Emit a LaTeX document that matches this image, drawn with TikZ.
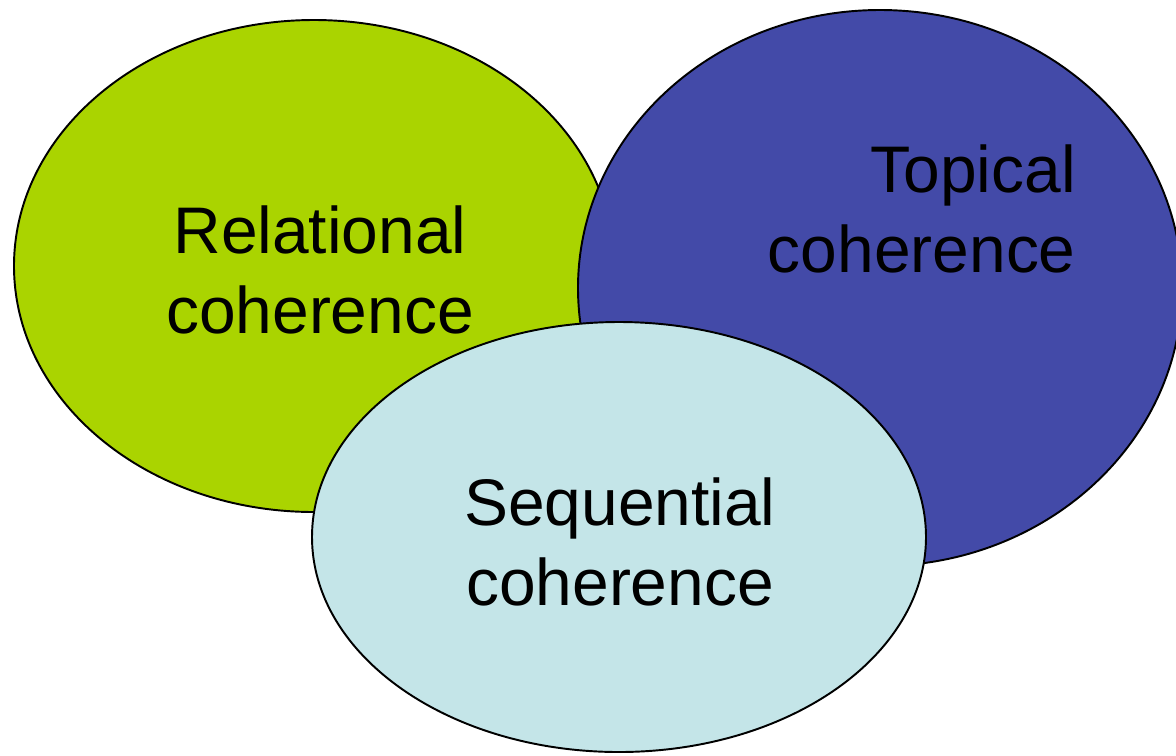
\documentclass[tikz,border=0pt]{standalone}
\usepackage{fontspec}
\setmainfont{Liberation Sans}
\usetikzlibrary{shapes}

\definecolor{relgreen}{RGB}{170,212,0}
\definecolor{topblue}{RGB}{67,74,168}
\definecolor{seqblue}{RGB}{196,229,232}

\begin{document}
\begin{tikzpicture}[x=0.02cm,y=-0.02cm,
  label/.style={inner sep=0pt,font=\fontsize{37.5}{45.5}\selectfont}]
\useasboundingbox (0,0) rectangle (1176,755);
\clip (0,0) rectangle (1176,755);
\filldraw[fill=relgreen,line width=1.1pt] (314,266) ellipse (300 and 246);
\filldraw[fill=topblue,line width=1.1pt] (880,288) ellipse (302 and 278);
\filldraw[fill=seqblue,line width=1.1pt] (619,537) ellipse (307 and 215);
\node[label,align=center] (rel) at (320,270) {Relational\\coherence};
\node[label,align=right,anchor=east] (top) at (1076,209) {Topical\\coherence};
\node[label,align=center] (seq) at (620,542) {Sequential\\coherence};
\end{tikzpicture}
\end{document}
